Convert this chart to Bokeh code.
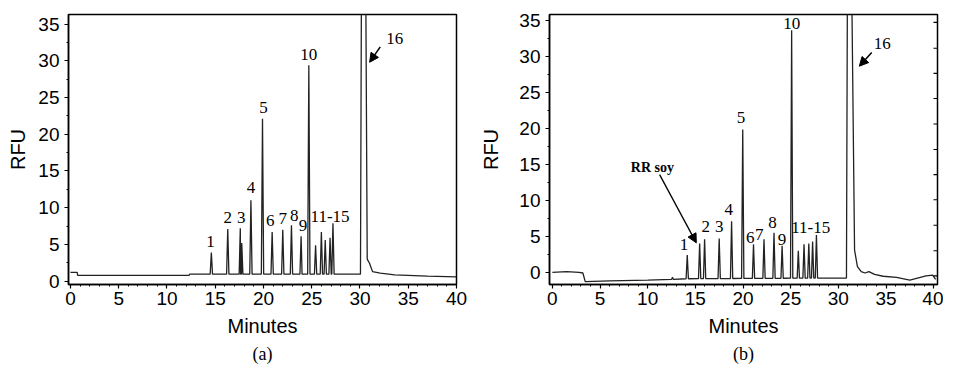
import numpy as np
from bokeh.plotting import figure
from bokeh.layouts import row
from bokeh.models import Arrow, NormalHead, Title, FixedTicker, Range1d
from bokeh.core.properties import value
from bokeh.embed import file_html
from bokeh.resources import INLINE

x_ticks = [0, 5, 10, 15, 20, 25, 30, 35, 40]
y_ticks = [0, 5, 10, 15, 20, 25, 30, 35]
right_ticks_b = [-0.5, 3.0, 6.55, 10.1, 13.6, 17.1, 20.65, 24.2, 27.7, 31.2, 34.8]

# ---------------- Panel (a) ----------------
base_a_time = [0.0, 0.7, 0.75, 12.3, 12.35, 24.0, 30.0]
base_a_rfu = [1.2, 1.2, 0.8, 0.8, 0.95, 0.95, 0.95]
peak_a_time = [14.6, 16.3, 17.6, 17.75, 18.7, 19.9, 20.9, 22.0, 22.9, 23.9,
               24.7, 25.4, 26.0, 26.4, 26.9, 27.2]
peak_a_rfu = [3.9, 7.1, 7.2, 5.2, 11.0, 22.1, 6.7, 7.0, 7.6, 6.1,
              29.4, 4.9, 6.7, 5.6, 5.9, 7.9]
big_a_time = [30.05, 30.15, 30.6, 30.75, 31.0, 31.3, 32.1, 33.6, 37.0, 40.0]
big_a_rfu = [0.95, 40.0, 40.0, 3.0, 2.4, 1.3, 1.1, 0.85, 0.7, 0.6]
lab_a_text = ["1", "2", "3", "4", "5", "6", "7", "8", "9", "10", "11-15", "16"]
lab_a_x = [14.5, 16.3, 17.7, 18.7, 20.0, 20.7, 22.0, 23.2, 24.1, 24.7, 26.9, 33.6]
lab_a_y = [5.4, 8.7, 8.7, 12.7, 23.7, 8.3, 8.5, 9.0, 7.6, 30.9, 8.8, 33.1]
arrow_a = [32.1, 31.9, 31.0, 29.8]   # x_start, y_start, x_end, y_end

# ---------------- Panel (b) ----------------
base_b_time = [0.0, 1.5, 2.8, 3.2, 3.45, 6.0, 10.0, 12.5, 12.6, 12.7, 14.0, 28.0, 30.8]
base_b_rfu = [0.0, 0.1, 0.0, -0.1, -1.3, -1.2, -1.1, -1.0, -0.7, -1.0, -0.9, -0.8, -0.8]
peak_b_time = [14.15, 15.45, 15.97, 17.5, 18.8, 19.97, 21.1, 22.2, 23.25, 24.1,
               25.1, 25.8, 26.4, 26.9, 27.3, 27.7]
peak_b_rfu = [2.4, 4.0, 4.6, 4.7, 7.1, 19.9, 3.9, 4.6, 5.5, 3.7,
              33.7, 3.0, 3.9, 4.0, 4.3, 5.2]
big_b_time = [30.85, 30.95, 31.4, 31.7, 32.0, 32.4, 32.8, 33.2, 33.8, 34.7,
              36.1, 37.5, 39.2, 39.9, 40.2]
big_b_rfu = [-0.8, 40.0, 40.0, 3.1, 0.8, 0.1, -0.1, 0.1, -0.3, -0.55,
             -0.7, -1.1, -0.5, -0.4, -1.0]
lab_b_text = ["1", "2", "3", "4", "5", "6", "7", "8", "9", "10", "11-15", "16"]
lab_b_x = [13.8, 16.1, 17.5, 18.5, 19.8, 20.75, 21.7, 23.1, 24.1, 25.1, 27.1, 34.6]
lab_b_y = [3.9, 6.4, 6.4, 8.8, 21.6, 4.8, 5.3, 6.9, 4.6, 34.6, 6.2, 31.8]
arrow_b = [33.5, 30.6, 32.2, 28.7]
rr_text = ["RR soy"]
rr_x = [10.5]
rr_y = [14.6]
arrow_rr = [11.25, 13.6, 15.1, 4.1]

X_RANGE_A = (-0.2, 40.0)
X_RANGE_B = (-0.3, 40.4)


def build_trace(bt, by, pt, py, tt, ty, w=0.12):
    pts = list(zip(bt, by))
    for t, h in zip(pt, py):
        b = float(np.interp(t, bt, by))
        pts += [(t - w, b), (t, h), (t + w, b)]
    pts.sort()
    pts += list(zip(tt, ty))
    xs = [p[0] for p in pts]
    ys = [p[1] for p in pts]
    return xs, ys


SANS = "Liberation Sans"
SERIF = "Liberation Serif"


def make_panel(width, mb_left, mb_right, mb_top, xr, yr, label_standoff, tag):
    p = figure(width=width, height=366, output_backend="svg", toolbar_location=None,
               x_range=Range1d(*xr), y_range=Range1d(*yr),
               min_border_left=mb_left, min_border_right=mb_right,
               min_border_top=mb_top, min_border_bottom=60)
    p.grid.visible = False
    p.outline_line_color = "black"
    p.outline_line_width = 1.5
    p.background_fill_color = "white"
    p.border_fill_color = "white"
    p.xaxis.ticker = FixedTicker(ticks=x_ticks, minor_ticks=list(range(0, 41)))
    p.yaxis.ticker = FixedTicker(ticks=y_ticks, minor_ticks=[i * 2.5 for i in range(0, 15)])
    for ax in (p.xaxis[0], p.yaxis[0]):
        ax.axis_line_color = "black"
        ax.axis_line_width = 1.5
        ax.major_tick_line_color = "black"
        ax.major_tick_line_width = 1.2
        ax.major_tick_out = 4
        ax.major_tick_in = 0
        ax.minor_tick_line_color = "black"
        ax.minor_tick_out = 2
        ax.minor_tick_in = 0
        ax.major_label_text_font = SANS
        ax.major_label_text_font_size = "19px"
        ax.major_label_text_color = "black"
        ax.axis_label_text_font = SANS
        ax.axis_label_text_font_size = "20px"
        ax.axis_label_text_font_style = "normal"
        ax.axis_label_text_color = "black"
    p.xaxis.major_label_standoff = 3
    p.yaxis.major_label_standoff = 5
    p.xaxis.axis_label = "Minutes"
    p.xaxis.axis_label_standoff = 7
    p.yaxis.axis_label = "RFU"
    p.yaxis.axis_label_standoff = label_standoff
    p.add_layout(Title(text=tag, align="center", text_font=SERIF, text_font_size="18px",
                       text_font_style="normal", text_color="black", standoff=5), "below")
    return p


# Panel (a)
pa = make_panel(477, 68, 21, 14, X_RANGE_A, (-0.45, 36.3), 6, "(a)")
xa, ya = build_trace(base_a_time, base_a_rfu, peak_a_time, peak_a_rfu, big_a_time, big_a_rfu)
pa.line(xa, ya, line_color="#222222", line_width=1.3)
pa.text(x=lab_a_x, y=lab_a_y, text=lab_a_text, text_font=value(SERIF), text_font_size="17px",
        text_align="center", text_baseline="middle", text_color="black")
pa.add_layout(Arrow(end=NormalHead(size=9, fill_color="black", line_color="black"),
                    x_start=arrow_a[0], y_start=arrow_a[1], x_end=arrow_a[2], y_end=arrow_a[3],
                    line_width=1.5, line_color="black"))

# Panel (b)
pb = make_panel(466, 69, 6, 13, X_RANGE_B, (-1.7, 35.9), 14, "(b)")
xb, yb = build_trace(base_b_time, base_b_rfu, peak_b_time, peak_b_rfu, big_b_time, big_b_rfu)
pb.line(xb, yb, line_color="#222222", line_width=1.3)
pb.text(x=lab_b_x, y=lab_b_y, text=lab_b_text, text_font=value(SERIF), text_font_size="17px",
        text_align="center", text_baseline="middle", text_color="black")
pb.text(x=rr_x, y=rr_y, text=rr_text, text_font=value(SERIF), text_font_size="14px",
        text_font_style="bold", text_align="center", text_baseline="middle", text_color="black")
pb.add_layout(Arrow(end=NormalHead(size=9, fill_color="black", line_color="black"),
                    x_start=arrow_b[0], y_start=arrow_b[1], x_end=arrow_b[2], y_end=arrow_b[3],
                    line_width=1.5, line_color="black"))
pb.add_layout(Arrow(end=NormalHead(size=9, fill_color="black", line_color="black"),
                    x_start=arrow_rr[0], y_start=arrow_rr[1], x_end=arrow_rr[2], y_end=arrow_rr[3],
                    line_width=1.3, line_color="black"))
# small inward ticks on the right frame edge of panel (b)
pb.scatter(x=[X_RANGE_B[1]] * len(right_ticks_b), y=right_ticks_b, marker="dash",
           size=8, line_color="black", line_width=1.2)

layout = row(pa, pb)
open("out.html", "w").write(file_html(layout, INLINE))
